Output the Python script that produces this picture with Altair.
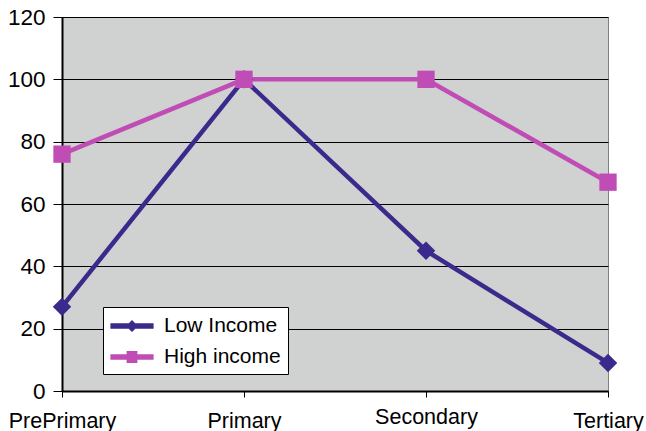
import altair as alt
import pandas as pd

categories = ["PrePrimary", "Primary", "Secondary", "Tertiary"]
series_names = ["Low Income", "High income"]
low_income = [27, 100, 45, 9]
high_income = [76, 100, 100, 67]
y_ticks = [0, 20, 40, 60, 80, 100, 120]
colors = ["#3b2a8b", "#c04cb6"]

rows = []
for name, vals in zip(series_names, [low_income, high_income]):
    for c, v in zip(categories, vals):
        rows.append({"level": c, "value": v, "series": name})
df = pd.DataFrame(rows)

FONT = "Liberation Sans"

x_enc = alt.X("level:N", sort=categories, scale=alt.Scale(type="point", padding=0),
              axis=alt.Axis(title=None, labelAngle=0, grid=False, tickSize=6, tickColor="black",
                            domainColor="black", domainWidth=2, labelFontSize=21.5, labelFont=FONT,
                            labelColor="black", labelBaseline="top",
                            labelPadding={"condition": {"test": "datum.value == 'Secondary'", "value": 9}, "value": 13}))
y_enc = alt.Y("value:Q", scale=alt.Scale(domain=[0, 120], nice=False),
              axis=alt.Axis(title=None, values=y_ticks, grid=True, gridColor="black", gridWidth=1,
                            tickSize=9, tickColor="black", domainColor="black", domainWidth=2,
                            labelFontSize=22.5, labelFont=FONT, labelColor="black", labelPadding=8))
color_scale = alt.Scale(domain=series_names, range=colors)

base = alt.Chart(df)

low_path = "M-1.8,-0.22H1.8V0.22H-1.8Z M-0.5,0L0,-0.5L0.5,0L0,0.5Z"
high_path = "M-1.8,-0.22H1.8V0.22H-1.8Z M-0.45,-0.5H0.45V0.5H-0.45Z"

legend_layer = base.transform_filter("false").mark_point(filled=True, opacity=1).encode(
    x=x_enc, y=y_enc,
    color=alt.Color("series:N", scale=color_scale, legend=alt.Legend(title=None)),
    shape=alt.Shape("series:N", scale=alt.Scale(domain=series_names, range=[low_path, high_path]),
                    legend=alt.Legend(title=None)),
)

lines = base.mark_line(strokeWidth=4.5).encode(
    x=x_enc, y=y_enc,
    color=alt.Color("series:N", scale=color_scale, legend=None),
    detail="series:N",
)
diamonds = base.transform_filter(alt.datum.series == "Low Income").mark_point(
    shape="diamond", filled=True, size=340, opacity=1
).encode(x=x_enc, y=y_enc, color=alt.Color("series:N", scale=color_scale, legend=None))
squares = base.transform_filter(alt.datum.series == "High income").mark_point(
    shape="square", filled=True, size=300, opacity=1
).encode(x=x_enc, y=y_enc, color=alt.Color("series:N", scale=color_scale, legend=None))

chart = alt.layer(legend_layer, lines, diamonds, squares).properties(
    width=546, height=374,
    autosize=alt.AutoSizeParams(type="none"),
    padding={"left": 62, "top": 17, "right": 38, "bottom": 40},
).configure_view(
    fill="#d0d1d1", stroke="#808080", strokeWidth=1
).configure_legend(
    orient="none", legendX=41, legendY=290, fillColor="white", strokeColor="black",
    strokeWidth=1, padding=7, labelFontSize=21, labelFont=FONT, labelColor="black",
    symbolSize=576, symbolOffset=10, labelOffset=20, rowPadding=9, symbolStrokeWidth=0,
    symbolOpacity=1, cornerRadius=0,
)

chart.save("out.html", embed_options={"renderer": "svg", "actions": False})
